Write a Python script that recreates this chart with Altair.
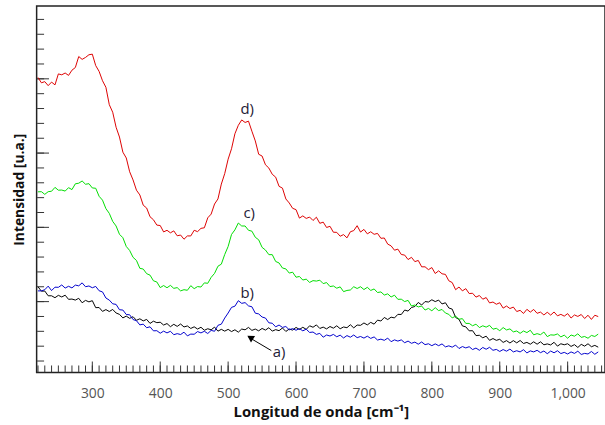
import altair as alt
import pandas as pd

# Raman shift grid (cm^-1)
wavenumber = list(range(220, 1046, 5))

# Intensities (arbitrary units)
serie_d = [20.06, 19.70, 19.78, 19.51, 19.75, 19.56, 20.30, 20.24, 20.36, 20.20,
           20.55, 20.73, 21.47, 21.28, 21.41, 21.59, 21.63, 20.86, 20.47, 19.84,
           19.40, 18.23, 17.72, 16.71, 16.05, 15.03, 14.64, 13.71, 13.16, 12.47,
           12.15, 11.46, 11.27, 10.68, 10.48, 10.12, 10.09, 9.66, 9.77, 9.60,
           9.73, 9.40, 9.45, 9.17, 9.39, 9.39, 9.77, 9.68, 9.90, 9.94,
           10.61, 10.86, 11.54, 11.88, 12.88, 13.59, 14.56, 15.26, 16.27, 16.84,
           17.20, 17.03, 17.12, 16.44, 15.79, 14.89, 14.77, 14.18, 13.96, 13.54,
           13.35, 12.73, 12.61, 11.88, 11.61, 11.25, 11.16, 10.59, 10.74, 10.57,
           10.66, 10.43, 10.65, 10.24, 10.32, 9.96, 10.04, 9.64, 9.63, 9.37,
           9.48, 9.26, 9.67, 9.75, 10.08, 9.65, 9.83, 9.53, 9.67, 9.50,
           9.56, 9.23, 9.25, 8.84, 8.72, 8.43, 8.50, 8.14, 8.10, 7.80,
           7.95, 7.66, 7.74, 7.31, 7.31, 7.12, 7.26, 6.86, 7.04, 6.84,
           6.80, 6.37, 6.25, 5.77, 5.95, 5.69, 5.84, 5.51, 5.53, 5.27,
           5.38, 5.13, 5.24, 4.88, 4.94, 4.79, 4.89, 4.53, 4.67, 4.50,
           4.60, 4.30, 4.38, 4.17, 4.45, 4.26, 4.44, 4.18, 4.26, 4.07,
           4.25, 4.06, 4.27, 4.01, 4.11, 3.99, 4.16, 3.86, 4.07, 3.97,
           4.10, 3.83, 4.05, 3.77, 4.05, 3.96]

serie_c = [12.36, 12.37, 12.19, 12.37, 12.40, 12.66, 12.47, 12.48, 12.41, 12.64,
           12.51, 12.90, 12.94, 13.09, 12.87, 12.91, 12.62, 12.60, 12.06, 11.80,
           11.23, 10.91, 10.37, 10.06, 9.50, 9.27, 8.68, 8.41, 7.95, 7.74,
           7.21, 7.16, 6.85, 6.75, 6.37, 6.29, 5.91, 6.05, 5.90, 6.06,
           5.86, 5.91, 5.69, 5.77, 5.73, 6.04, 5.84, 5.98, 5.95, 6.23,
           6.20, 6.60, 6.87, 7.35, 7.49, 8.14, 8.68, 9.49, 9.80, 10.26,
           10.06, 10.06, 9.77, 9.71, 9.30, 9.13, 8.62, 8.44, 8.13, 8.13,
           7.67, 7.57, 7.23, 7.17, 6.89, 6.95, 6.61, 6.66, 6.42, 6.48,
           6.26, 6.38, 6.35, 6.41, 6.18, 6.25, 5.98, 6.02, 5.87, 5.96,
           5.64, 5.72, 5.75, 5.97, 5.85, 5.97, 5.78, 5.93, 5.72, 5.82,
           5.58, 5.62, 5.41, 5.49, 5.28, 5.40, 5.12, 5.13, 4.97, 5.05,
           4.67, 4.74, 4.61, 4.67, 4.40, 4.51, 4.35, 4.56, 4.36, 4.44,
           4.20, 4.11, 3.87, 3.99, 3.78, 3.82, 3.50, 3.50, 3.34, 3.45,
           3.22, 3.34, 3.25, 3.37, 3.11, 3.17, 3.01, 3.22, 3.06, 3.13,
           2.93, 2.99, 2.83, 2.99, 2.88, 3.04, 2.73, 2.81, 2.74, 2.92,
           2.61, 2.73, 2.71, 2.79, 2.59, 2.71, 2.50, 2.72, 2.64, 2.80,
           2.56, 2.62, 2.50, 2.69, 2.62, 2.78]

serie_b = [5.69, 5.69, 5.77, 6.01, 5.71, 5.94, 5.93, 6.09, 5.88, 6.00,
           5.89, 6.08, 6.03, 6.23, 5.97, 6.02, 5.90, 5.99, 5.70, 5.62,
           5.21, 5.07, 4.82, 4.78, 4.42, 4.40, 4.10, 4.08, 3.76, 3.68,
           3.40, 3.45, 3.21, 3.27, 3.00, 3.01, 2.84, 2.98, 2.86, 2.97,
           2.74, 2.81, 2.75, 2.91, 2.66, 2.78, 2.77, 2.95, 2.86, 2.97,
           2.82, 3.03, 2.97, 3.37, 3.45, 3.86, 4.20, 4.58, 4.66, 5.03,
           4.85, 4.90, 4.68, 4.62, 4.19, 4.14, 3.93, 3.86, 3.54, 3.51,
           3.27, 3.39, 3.23, 3.29, 3.07, 3.15, 3.04, 3.15, 3.00, 3.11,
           2.89, 2.92, 2.76, 2.83, 2.57, 2.72, 2.65, 2.76, 2.60, 2.71,
           2.52, 2.68, 2.57, 2.72, 2.54, 2.62, 2.51, 2.64, 2.49, 2.59,
           2.38, 2.44, 2.36, 2.51, 2.27, 2.39, 2.31, 2.39, 2.20, 2.31,
           2.16, 2.24, 2.10, 2.25, 2.07, 2.13, 2.00, 2.12, 2.00, 2.12,
           1.92, 1.99, 1.90, 2.04, 1.81, 1.94, 1.85, 1.93, 1.74, 1.84,
           1.69, 1.88, 1.76, 1.89, 1.69, 1.75, 1.61, 1.74, 1.63, 1.77,
           1.58, 1.66, 1.58, 1.73, 1.51, 1.65, 1.58, 1.69, 1.53, 1.64,
           1.46, 1.64, 1.52, 1.66, 1.47, 1.55, 1.44, 1.58, 1.48, 1.63,
           1.41, 1.48, 1.44, 1.61, 1.42, 1.58]

serie_a = [5.97, 5.67, 5.68, 5.36, 5.36, 5.23, 5.39, 5.28, 5.40, 5.12,
           5.14, 5.07, 5.19, 4.89, 5.05, 4.95, 5.03, 4.56, 4.57, 4.31,
           4.43, 4.30, 4.44, 4.20, 4.11, 3.87, 3.99, 3.84, 3.95, 3.71,
           3.81, 3.67, 3.77, 3.50, 3.65, 3.55, 3.58, 3.39, 3.49, 3.28,
           3.44, 3.30, 3.46, 3.26, 3.33, 3.16, 3.27, 3.12, 3.24, 3.04,
           3.14, 3.07, 3.25, 2.98, 3.10, 2.98, 3.10, 2.95, 3.07, 2.91,
           3.12, 3.07, 3.23, 3.03, 3.12, 3.00, 3.16, 3.05, 3.21, 2.98,
           3.08, 3.01, 3.19, 2.96, 3.12, 3.05, 3.23, 3.09, 3.24, 3.10,
           3.34, 3.24, 3.40, 3.16, 3.25, 3.13, 3.29, 3.18, 3.34, 3.14,
           3.26, 3.21, 3.41, 3.20, 3.39, 3.37, 3.53, 3.40, 3.57, 3.45,
           3.72, 3.66, 3.90, 3.76, 3.92, 3.87, 4.11, 4.10, 4.40, 4.33,
           4.57, 4.64, 4.91, 4.74, 4.97, 4.94, 5.09, 4.97, 5.07, 4.81,
           4.89, 4.54, 4.46, 3.90, 3.77, 3.33, 3.27, 3.00, 3.01, 2.68,
           2.70, 2.53, 2.64, 2.36, 2.48, 2.36, 2.43, 2.22, 2.34, 2.18,
           2.34, 2.19, 2.35, 2.15, 2.22, 2.10, 2.26, 2.10, 2.26, 2.06,
           2.12, 2.05, 2.23, 1.97, 2.13, 2.06, 2.13, 1.95, 2.07, 1.88,
           2.09, 1.97, 2.13, 1.93, 2.02, 1.90]

series_names = ["a", "b", "c", "d"]
series_colors = ["#000000", "#0000cc", "#00dd00", "#dd0000"]

# Annotation labels
labels = ["a)", "b)", "c)", "d)"]
label_x = [575, 528, 531, 528]
label_y = [1.55, 5.53, 10.93, 17.93]

# Arrow for a)
arrow_from = [563.6, 1.67]
arrow_to = [530.0, 2.58]
arrow_head = [532.5, 2.55]

# Axis ticks
x_labels = [300, 400, 500, 600, 700, 800, 900, 1000]
x_minor = list(range(220, 1051, 10))
y_minor = list(range(1, 25))
y_major = [5, 10, 15, 20]

W, H = 574, 370
FONT = "Open Sans"
TICK = "#333333"

xs = alt.Scale(domain=[218, 1055], nice=False, zero=False)
ys = alt.Scale(domain=[0.2, 24.87], nice=False, zero=False)

frames = []
for name, vals in zip(series_names, [serie_a, serie_b, serie_c, serie_d]):
    frames.append(pd.DataFrame({"x": wavenumber, "v": vals, "serie": name}))
df = pd.concat(frames, ignore_index=True)

lines = alt.Chart(df).mark_line(strokeWidth=1, clip=True).encode(
    x=alt.X("x:Q", scale=xs, axis=alt.Axis(
        orient="bottom", values=x_labels, format=",d", ticks=False, tickSize=0,
        domain=False, grid=False, labelPadding=14, labelColor="#555555",
        labelFontSize=14, labelFont=FONT, title="Longitud de onda [cm⁻¹]",
        titleFont=FONT, titleFontSize=15, titleFontWeight="bold",
        titleColor="#111111", titlePadding=5)),
    y=alt.Y("v:Q", scale=ys, axis=alt.Axis(
        orient="left", labels=False, ticks=False, domain=False, grid=False,
        title="Intensidad [u.a.]", titleFont=FONT, titleFontSize=14,
        titleFontWeight="bold", titleColor="#111111", titlePadding=10)),
    color=alt.Color("serie:N", scale=alt.Scale(domain=series_names, range=series_colors),
                    legend=None),
    detail="serie:N",
)

# x ticks: short rules standing on the bottom frame, pointing into the plot
xt_minor = pd.DataFrame({"t": x_minor})
xt_major = pd.DataFrame({"t": x_labels})
x_minor_ticks = alt.Chart(xt_minor).mark_rule(color=TICK, strokeWidth=1).encode(
    x=alt.X("t:Q", scale=xs, axis=None),
    y=alt.value(H), y2=alt.value(H - 7),
)
x_major_ticks = alt.Chart(xt_major).mark_rule(color=TICK, strokeWidth=1).encode(
    x=alt.X("t:Q", scale=xs, axis=None),
    y=alt.value(H), y2=alt.value(H - 11),
)

# y ticks: axes shifted inward by their own tick length
ends = pd.DataFrame({"x": [wavenumber[0], wavenumber[-1]], "v": [y_minor[0], y_minor[-1]]})


def y_tick_layer(values, size):
    return alt.Chart(ends).mark_point(opacity=0).encode(
        x=alt.X("x:Q", scale=xs, axis=None),
        y=alt.Y("v:Q", scale=ys, axis=alt.Axis(
            orient="left", offset=-size, values=values, tickSize=size,
            tickColor=TICK, tickWidth=1, labels=False, domain=False,
            grid=False, title=None)),
    )


y_minor_ticks = y_tick_layer(y_minor, 7)
y_major_ticks = y_tick_layer(y_major, 12)

ann = pd.DataFrame({"label": labels, "x": label_x, "v": label_y})
text = alt.Chart(ann).mark_text(font=FONT, fontSize=15, color="#1e2035").encode(
    x=alt.X("x:Q", scale=xs, axis=None),
    y=alt.Y("v:Q", scale=ys, axis=None),
    text="label:N",
)

arrow_df = pd.DataFrame({"x": [arrow_from[0]], "v": [arrow_from[1]],
                         "x2": [arrow_to[0]], "v2": [arrow_to[1]]})
arrow_line = alt.Chart(arrow_df).mark_rule(color="black", strokeWidth=1).encode(
    x=alt.X("x:Q", scale=xs, axis=None),
    y=alt.Y("v:Q", scale=ys, axis=None),
    x2="x2:Q",
    y2="v2:Q",
)
head_df = pd.DataFrame({"x": [arrow_head[0]], "v": [arrow_head[1]]})
arrow_head_mark = alt.Chart(head_df).mark_point(
    shape="triangle-up", filled=True, size=60, angle=302, color="black", opacity=1
).encode(
    x=alt.X("x:Q", scale=xs, axis=None),
    y=alt.Y("v:Q", scale=ys, axis=None),
)

chart = alt.layer(
    lines, x_minor_ticks, x_major_ticks, y_minor_ticks, y_major_ticks,
    text, arrow_line, arrow_head_mark
).resolve_axis(x="independent", y="independent").properties(
    width=W, height=H,
    autosize=alt.AutoSizeParams(type="none"),
    padding={"left": 37, "top": 4, "right": 0, "bottom": 51},
).configure_view(stroke="#222222", strokeWidth=1.5)

chart.save("out.html", embed_options={"renderer": "svg", "actions": False})
